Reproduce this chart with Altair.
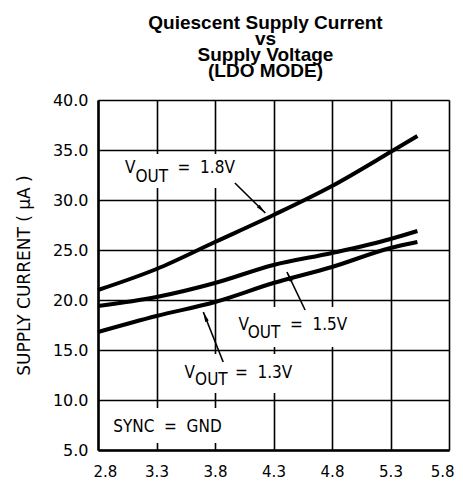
import altair as alt
import pandas as pd
import numpy as np

# ---- data ----
voltage = [2.8, 3.3, 3.8, 4.3, 4.8, 5.3, 5.53]
i_18 = [21.0, 23.1, 25.8, 28.5, 31.4, 34.8, 36.4]
i_15 = [19.4, 20.3, 21.7, 23.5, 24.7, 26.1, 26.9]
i_13 = [16.8, 18.4, 19.8, 21.7, 23.3, 25.2, 25.8]
series_names = ["1.8V", "1.5V", "1.3V"]

x_ticks = [2.8, 3.3, 3.8, 4.3, 4.8, 5.3, 5.8]
y_ticks = [5, 10, 15, 20, 25, 30, 35, 40]

NB = "\u00a0"
# annotation texts (data coordinates)
ann_text = ["V", "OUT", "=" + NB * 2 + "1.8V", "V", "OUT", "=" + NB * 2 + "1.5V",
            "V", "OUT", "=" + NB * 2 + "1.3V", "SYNC" + NB * 2 + "=" + NB * 2 + "GND"]
ann_x = [3.03, 3.12, 3.48, 4.00, 4.08, 4.44, 3.54, 3.63, 3.97, 2.93]
ann_y = [32.7, 31.8, 32.7, 17.0, 16.2, 17.0, 12.2, 11.5, 12.2, 6.8]

# white label backgrounds
box_x = [2.97, 3.95, 3.48, 2.86]
box_x2 = [4.06, 5.06, 4.57, 3.97]
box_y = [31.2, 15.3, 10.7, 5.7]
box_y2 = [34.6, 19.3, 14.6, 9.2]

# arrows
arr_x = [3.97, 4.57, 3.87]
arr_y = [31.7, 19.0, 13.8]
arr_x2 = [4.23, 4.415, 3.70]
arr_y2 = [28.7, 22.8, 18.8]

# ---- tables ----
curves = pd.DataFrame({
    "V": voltage * 3,
    "I": i_18 + i_15 + i_13,
    "s": sum([[n] * len(voltage) for n in series_names], []),
})
ann = pd.DataFrame({"t": ann_text, "x": ann_x, "y": ann_y})
boxes = pd.DataFrame({"x": box_x, "x2": box_x2, "y": box_y, "y2": box_y2})
# arrow head angle computed in screen space (117 px per V, 10 px per uA)
px_x = 117.0
px_y = 10.0
dx = (np.array(arr_x2) - np.array(arr_x)) * px_x
dy = -(np.array(arr_y2) - np.array(arr_y)) * px_y
ang = (np.degrees(np.arctan2(dx, -dy)) + 360) % 360
arrows = pd.DataFrame({"x": arr_x, "y": arr_y, "x2": arr_x2, "y2": arr_y2, "a": ang})

FONT = "DejaVu Sans"
TFONT = "DejaVu Sans Condensed, Liberation Sans Narrow, DejaVu Sans"

xs = alt.Scale(domain=[2.8, 5.8], nice=False, zero=False)
ys = alt.Scale(domain=[5, 40], nice=False, zero=False)

x_axis = alt.Axis(values=x_ticks, format=".1f", title=None, grid=True,
                  gridColor="black", gridWidth=1.6, gridOpacity=1,
                  ticks=False, labelFont=FONT, labelFontSize=15,
                  labelColor="black", labelPadding=14, domainColor="black",
                  domainWidth=2.5, labelFlush=True, labelFlushOffset=5)
y_axis = alt.Axis(values=y_ticks, format=".1f", title="SUPPLY CURRENT ( \u03bcA )",
                  grid=True, gridColor="black", gridWidth=1.6, gridOpacity=1,
                  ticks=False, labelFont=FONT, labelFontSize=16, labelColor="black",
                  labelPadding=10, domainColor="black", domainWidth=2.5,
                  titleFont=FONT, titleFontSize=17, titleFontWeight="normal",
                  titleColor="black", titlePadding=19, labelFlush=False)

box_layer = alt.Chart(boxes).mark_rect(color="white").encode(
    x=alt.X("x:Q", scale=xs, axis=x_axis),
    x2="x2:Q",
    y=alt.Y("y:Q", scale=ys, axis=y_axis),
    y2="y2:Q",
)

line_layer = alt.Chart(curves).mark_line(color="black", strokeWidth=4,
                                          interpolate="monotone").encode(
    x=alt.X("V:Q", scale=xs),
    y=alt.Y("I:Q", scale=ys),
    detail="s:N",
)

rule_layer = alt.Chart(arrows).mark_rule(color="black", strokeWidth=1.6).encode(
    x=alt.X("x:Q", scale=xs), y=alt.Y("y:Q", scale=ys), x2="x2:Q", y2="y2:Q"
)

head_layer = alt.Chart(arrows).mark_point(
    shape="M0,0 L0.38,2 L-0.38,2 Z", filled=True, color="black", opacity=1,
    size=100, strokeWidth=0,
).encode(
    x=alt.X("x2:Q", scale=xs), y=alt.Y("y2:Q", scale=ys),
    angle=alt.Angle("a:Q", scale=None),
)

text_layer = alt.Chart(ann).mark_text(
    align="left", baseline="alphabetic", font=TFONT, fontSize=17, color="black"
).encode(
    x=alt.X("x:Q", scale=xs), y=alt.Y("y:Q", scale=ys), text="t:N"
)

chart = alt.layer(box_layer, line_layer, rule_layer, head_layer, text_layer).properties(
    width=351,
    height=350,
    autosize=alt.AutoSizeParams(type="none"),
    padding={"left": 90, "top": 92, "right": 6, "bottom": 33},
    title=alt.TitleParams(
        text=["Quiescent Supply Current", "vs", "Supply Voltage", "(LDO MODE)"],
        font="Liberation Sans", fontSize=19, fontWeight="bold", lineHeight=16,
        anchor="middle", dx=-8, offset=11, color="black",
    ),
).configure_view(stroke="black", strokeWidth=2.5).configure(background="white")

chart.save("out.html", embed_options={"renderer": "svg", "actions": False})
